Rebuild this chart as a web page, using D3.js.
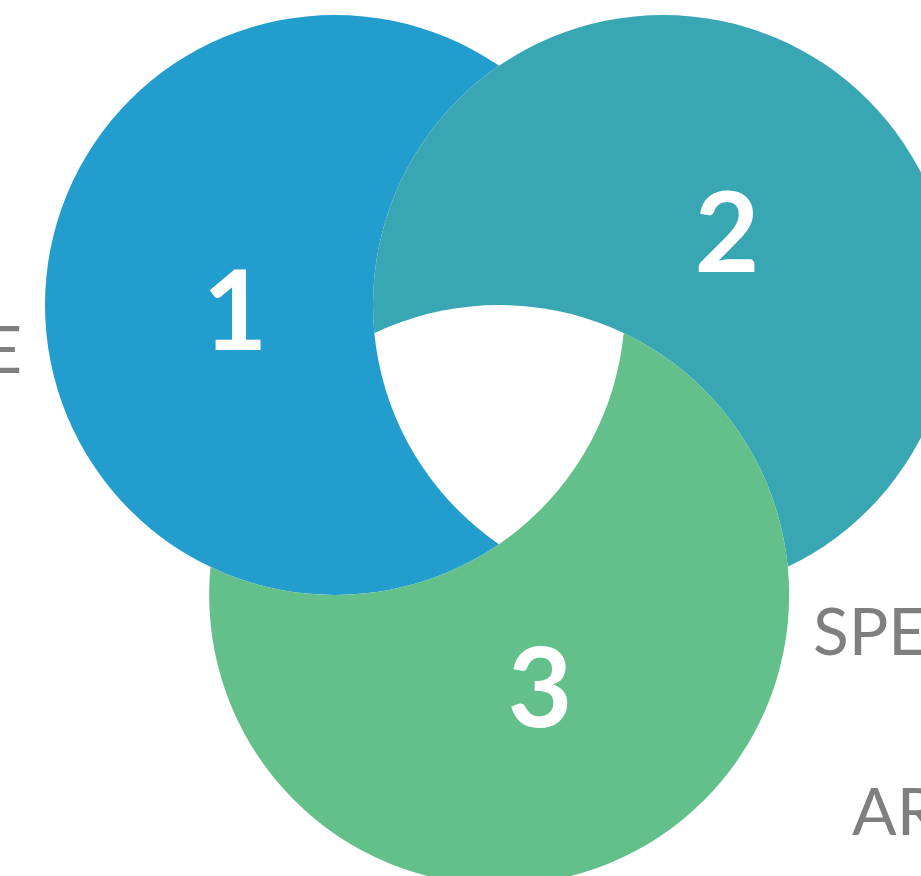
<!DOCTYPE html>
<html>
<head>
<meta charset="utf-8">
<script src="https://cdn.jsdelivr.net/npm/d3@7"></script>
<style>
  html, body { margin: 0; padding: 0; background: #fff; overflow: hidden; }
</style>
</head>
<body>
<div id="venn"></div>
<script>
// circles in radius units (radius = 1)
const setNames = ["1", "2", "3"];
const setX = [0, 1.131, 0.566];
const setY = [0, 0, 1.0];
const setColors = ["#239dce", "#38a7b3", "#64c08b"];
// which circle cuts each one (cyclic overlap, middle stays empty)
const cutBy = [1, 2, 0];

// number placement, same units
const numX = [-0.345, 1.352, 0.707];
const numY = [0.155, -0.115, 1.455];

// side captions (cut off by the frame)
const captions = ["E", "SPE", "AR"];
const capX = [-1.079, 1.648, 1.783];
const capY = [0.234, 1.207, 1.828];
const capAnchor = ["end", "start", "start"];

const width = 921, height = 876;

const x = d3.scaleLinear().domain([0, 1]).range([335, 625]);
const y = d3.scaleLinear().domain([0, 1]).range([305, 595]);
const rPx = x(1) - x(0);

const svg = d3.select("#venn")
  .append("svg")
  .attr("width", width)
  .attr("height", height)
  .attr("viewBox", [0, 0, width, height]);

const defs = svg.append("defs");

setNames.forEach((name, i) => {
  const m = defs.append("mask")
    .attr("id", "cut" + i)
    .attr("maskUnits", "userSpaceOnUse")
    .attr("x", 0).attr("y", 0)
    .attr("width", width).attr("height", height);
  m.append("rect")
    .attr("width", width).attr("height", height)
    .attr("fill", "#fff");
  m.append("circle")
    .attr("cx", x(setX[cutBy[i]]))
    .attr("cy", y(setY[cutBy[i]]))
    .attr("r", rPx)
    .attr("fill", "#000");
});

svg.selectAll("circle.set")
  .data(setNames)
  .enter()
  .append("circle")
    .attr("class", "set")
    .attr("cx", (d, i) => x(setX[i]))
    .attr("cy", (d, i) => y(setY[i]))
    .attr("r", rPx)
    .attr("fill", (d, i) => setColors[i])
    .attr("mask", (d, i) => `url(#cut${i})`);

svg.selectAll("text.num")
  .data(setNames)
  .enter()
  .append("text")
    .attr("class", "num")
    .attr("x", (d, i) => x(numX[i]))
    .attr("y", (d, i) => y(numY[i]))
    .attr("text-anchor", "middle")
    .attr("font-family", "Lato, sans-serif")
    .attr("font-weight", 700)
    .attr("font-size", "112px")
    .attr("fill", "#fff")
    .text(d => d);

svg.selectAll("text.cap")
  .data(captions)
  .enter()
  .append("text")
    .attr("class", "cap")
    .attr("x", (d, i) => x(capX[i]))
    .attr("y", (d, i) => y(capY[i]))
    .attr("text-anchor", (d, i) => capAnchor[i])
    .attr("font-family", "Lato, sans-serif")
    .attr("font-size", "66px")
    .attr("fill", "#7f7f7f")
    .text(d => d);
</script>
</body>
</html>
